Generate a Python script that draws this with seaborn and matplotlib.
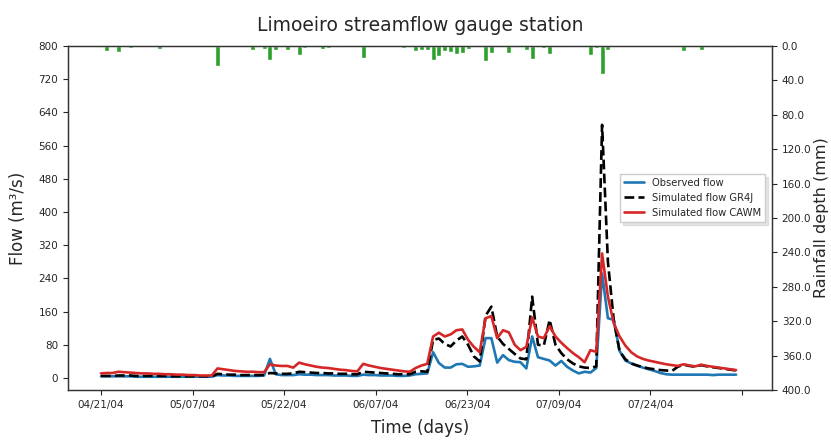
import numpy as np
import pandas as pd
import matplotlib
matplotlib.use("Agg")
import matplotlib.pyplot as plt
import seaborn as sns

# ---------------- data (daily, starting 04/21/04) ----------------
observed = [4, 4, 4, 4, 4, 4, 3, 3, 3, 3, 3, 3, 3, 3, 3, 3, 3, 3, 3, 3,
            7, 6, 6, 5, 5, 5, 5, 5, 6, 46, 9, 7, 7, 7, 9, 8, 8, 7, 7, 7,
            6, 6, 6, 5, 5, 8, 7, 7, 6, 6, 6, 5, 5, 6, 9, 10, 11, 62, 36, 25,
            25, 33, 34, 27, 28, 30, 96, 96, 37, 55, 43, 39, 38, 23, 100, 50, 46, 42, 30, 41,
            27, 18, 11, 15, 13, 24, 252, 144, 140, 65, 42, 35, 30, 25, 21, 17, 12, 9, 8, 8,
            8, 8, 8, 8, 8, 7, 8, 8, 8, 8]

gr4j = [5, 5, 5, 6, 6, 6, 5, 5, 5, 5, 5, 5, 4, 4, 4, 4, 4, 4, 4, 4,
        10, 9, 8, 8, 7, 7, 7, 7, 7, 12, 11, 10, 10, 11, 15, 14, 13, 12, 12, 11,
        11, 10, 10, 9, 9, 15, 14, 13, 12, 11, 10, 9, 9, 9, 15, 16, 15, 92, 95, 82,
        76, 90, 100, 80, 52, 40, 150, 172, 100, 82, 70, 58, 47, 45, 196, 80, 78, 140, 80, 60,
        45, 35, 28, 25, 24, 28, 610, 280, 140, 65, 45, 35, 30, 26, 23, 21, 19, 18, 17, 27,
        32, 29, 27, 31, 28, 26, 24, 22, 20, 18]

cawm = [11, 12, 12, 15, 14, 13, 12, 11, 11, 10, 10, 9, 9, 8, 8, 7, 7, 6, 6, 6,
        23, 21, 19, 17, 16, 15, 15, 14, 14, 33, 30, 29, 29, 25, 37, 33, 30, 27, 25, 24,
        22, 20, 19, 17, 16, 34, 30, 27, 24, 22, 20, 18, 16, 15, 24, 30, 34, 100, 109, 100,
        105, 115, 117, 92, 75, 62, 144, 149, 96, 115, 110, 80, 67, 75, 146, 100, 96, 125, 100, 85,
        72, 60, 50, 38, 67, 63, 300, 196, 132, 100, 78, 62, 52, 46, 42, 39, 36, 33, 31, 29,
        33, 30, 28, 32, 29, 27, 25, 23, 21, 19]

rainfall = [1.5, 5.8, 0, 6.6, 0, 2, 0, 0, 0, 0, 3.5, 0, 0, 0, 0, 0, 0, 0, 0, 0,
            23, 0, 0, 0, 0, 0, 5, 0, 3.5, 16.6, 4.3, 0, 4.6, 0, 10.5, 2.7, 0, 1, 3.5, 2.7,
            0, 1, 0, 1, 0, 14.3, 1, 0, 0, 0, 0, 0, 2, 0, 5.8, 4.6, 4.6, 16, 11.6, 5.8,
            6.6, 9.3, 7.8, 3.9, 1.5, 0, 18, 7.8, 0, 0, 7.8, 1, 0, 4.6, 15, 0, 2.7, 9.7, 0, 1.5,
            0, 0, 0, 0, 10.5, 2.7, 32.6, 4.6, 0, 0, 0, 0, 0, 0, 0, 0, 0, 0, 0, 0,
            5.8, 0, 0, 4.6, 0, 0, 1.5, 1.5, 1.5, 0]

tick_labels = ["04/21/04", "05/07/04", "05/22/04", "06/07/04",
               "06/23/04", "07/09/04", "07/24/04", ""]

days = np.arange(len(observed))
df = pd.DataFrame({"day": days, "obs": observed, "gr4j": gr4j,
                   "cawm": cawm, "rain": rainfall})

# ---------------- figure ----------------
sns.set_style("ticks")
plt.rcParams["font.family"] = ["DejaVu Sans"]
fig = plt.figure(figsize=(8.31, 4.40), dpi=100)
ax = fig.add_axes([0.0818, 0.1136, 0.8472, 0.7819])

sns.lineplot(data=df, x="day", y="obs", ax=ax, color="#1f77b4", lw=1.9,
             label="Observed flow")
sns.lineplot(data=df, x="day", y="gr4j", ax=ax, color="black", lw=1.9,
             linestyle="--", label="Simulated flow GR4J")
sns.lineplot(data=df, x="day", y="cawm", ax=ax, color="#d62728", lw=1.9,
             label="Simulated flow CAWM")

ax.set_xlim(-5.66, 115.16)
ax.set_ylim(-29, 800)
ax.set_yticks(np.arange(0, 801, 80))
ax.set_xticks(np.arange(8) * 110 / 7)
ax.set_xticklabels(tick_labels)
ax.tick_params(labelsize=7.5, direction="out", length=3.5)
ax.set_xlabel("Time (days)", fontsize=12, labelpad=7)
ax.set_ylabel("Flow (m³/s)", fontsize=12, labelpad=8)
ax.set_title("Limoeiro streamflow gauge station", fontsize=13.5, pad=11)

ax2 = ax.twinx()
sns.barplot(data=df, x="day", y="rain", ax=ax2, color="#2ca02c",
            native_scale=True, width=0.85, saturation=1)
ax2.set_ylim(400, 0)
ax2.set_xlim(-5.66, 115.16)
ax2.set_yticks(np.arange(0, 401, 40))
ax2.set_yticklabels([f"{v:.1f}" for v in np.arange(0, 401, 40)])
ax2.tick_params(labelsize=7.5, direction="out", length=3.5)
ax2.set_ylabel("Rainfall depth (mm)", fontsize=11.5, labelpad=2)
ax2.set_xlabel("")

for a in (ax, ax2):
    for s in a.spines.values():
        s.set_color("#333333")
        s.set_linewidth(0.9)

leg = ax.legend(loc="upper right", bbox_to_anchor=(0.997, 0.643),
                fontsize=7.2, frameon=True,
                shadow={"color": "0.8", "ox": 2, "oy": -2},
                fancybox=False, handlelength=2.0)
leg.get_frame().set_edgecolor("#cccccc")
ax.set_zorder(ax2.get_zorder() + 1)
ax.patch.set_visible(False)

fig.savefig("out.png", dpi=100)
